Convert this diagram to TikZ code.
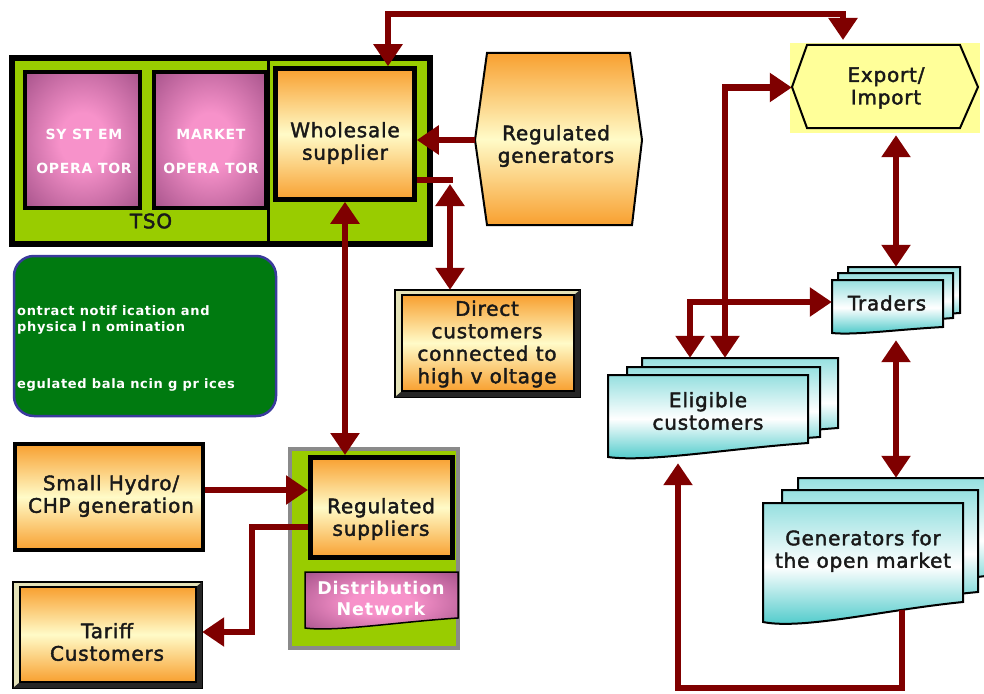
\documentclass[tikz,border=0pt]{standalone}
\usepackage{fontspec}
\setmainfont{DejaVu Sans}
\newfontfamily\lblfont[LetterSpace=4,FakeBold=2]{DejaVu Sans}
\newfontfamily\whfont[LetterSpace=5]{DejaVu Sans}
\usetikzlibrary{arrows.meta,calc}
\definecolor{dred}{HTML}{7F0000}
\definecolor{tsog}{HTML}{99CC00}
\definecolor{orA}{HTML}{F8A030}
\definecolor{orB}{HTML}{FFFBC8}
\definecolor{mgA}{HTML}{6A3660}
\definecolor{mgC}{HTML}{B25C94}
\definecolor{mgB}{HTML}{F792CA}
\definecolor{cyA}{HTML}{40C6C6}
\definecolor{dkgreen}{HTML}{007A10}
\definecolor{bord}{HTML}{3A3A9C}
\definecolor{expy}{HTML}{FFFF99}
\definecolor{bevel}{HTML}{E4E2B8}
\definecolor{grayb}{HTML}{8A8A8A}
\pgfdeclareradialshading{mgshade}{\pgfpoint{0bp}{0bp}}{color(0bp)=(mgB); color(10bp)=(mgB); color(32bp)=(mgC); color(47bp)=(mgA); color(80bp)=(mgA)}
\newcommand\docpage[6]{%
  \path[#6] (#1,#2) -- (#3,#2) -- (#3,#4)
    .. controls ({#1+0.6*(#3-#1)},{#4+0.4*(#5-#4)}) and ({#1+0.2*(#3-#1)},{#5+0.4*(#5-#4)}) .. (#1,#5) -- cycle;}
\newcommand\bevelbox[4]{% x1 y1 x2 y2
  \path[draw=black,line width=1.5pt,fill=bevel] (#1,#2) rectangle (#3,#4);
  \path[fill=black!85] (#3,#2) -- (#3,#4) -- (#1,#4) -- ({#1+7},{#4-6}) -- ({#3-6},{#4-6}) -- ({#3-6},{#2+5}) -- cycle;
  \path[draw=black,line width=1.5pt,top color=orA,bottom color=orA,middle color=orB] ({#1+7},{#2+5}) rectangle ({#3-6},{#4-6});}
\begin{document}
\begin{tikzpicture}[x=1pt,y=-1pt,
  arr/.style={draw=dred,line width=6.5pt,-{Triangle[width=28pt,length=22pt]}},
  darr/.style={draw=dred,line width=6.5pt,{Triangle[width=28pt,length=22pt]}-{Triangle[width=28pt,length=22pt]}},
  plainln/.style={draw=dred,line width=6.5pt},
  orfill/.style={top color=orA,bottom color=orA,middle color=orB},
  pagestyle/.style={draw=black,line width=2pt,top color=cyA!55!white,bottom color=cyA,middle color=white},
  mgfill/.style={shading=mgshade},
  lbl/.style={font=\lblfont\fontsize{20}{22.5}\selectfont,text=black!90,align=center,inner sep=0},
  wlbl/.style={font=\whfont\bfseries\fontsize{14}{34}\selectfont,text=white,align=center,inner sep=0},
  box/.style={inner sep=0,draw=black},
  hit/.style={inner sep=0,draw=none}]
\useasboundingbox (0,0) rectangle (984,693);
% ---------- TSO block
\node[box,line width=6pt,fill=tsog,minimum width=418pt,minimum height=186pt] (tso) at (221,151) {};
\draw[line width=3pt] (268,58) -- (268,244);
\node[box,line width=4pt,mgfill,minimum width=115pt,minimum height=136pt] (sysop) at (82.5,140) {};
\node[box,line width=4pt,mgfill,minimum width=112pt,minimum height=136pt] (mktop) at (210,140) {};
\node[wlbl] (sysopt) at (84,151) {SY ST EM\\OPERA TOR};
\node[wlbl] (mktopt) at (211,151) {MARKET\\OPERA TOR};
\node[lbl] (tsot) at (151,221) {TSO};
\node[box,line width=4.5pt,orfill,minimum width=139pt,minimum height=131pt] (whole) at (345,134) {};
\node[lbl] (wholet) at (345,143) {Wholesale\\supplier};
% ---------- Regulated generators
\path[draw=black,line width=2pt,orfill] (487,53) -- (630,53) -- (642,140) -- (632,225) -- (487,225) -- (475,140) -- cycle;
\node[hit,minimum width=167pt,minimum height=172pt] (regen) at (558.5,140) {};
\node[lbl] (regent) at (556,146) {Regulated\\generators};
% ---------- Direct customers
\bevelbox{395}{290}{580}{397}
\node[hit,minimum width=185pt,minimum height=107pt] (direct) at (487.5,343.5) {};
\node[lbl] (directt) at (487,344) {Direct\\customers\\connected to\\high v oltage};
% ---------- green note
\node[draw=bord,line width=2.5pt,fill=dkgreen,rounded corners=20pt,minimum width=262pt,minimum height=160pt,inner sep=0] (gbox) at (145,336) {};
\node[wlbl,font=\whfont\bfseries\fontsize{13}{16}\selectfont,align=left,anchor=west] (gnote1) at (17,320) {ontract notif ication and\\physica l n omination};
\node[wlbl,font=\whfont\bfseries\fontsize{13}{16}\selectfont,align=left,anchor=west] (gnote2) at (17,385) {egulated bala ncin g pr ices};
% ---------- Small hydro
\node[box,line width=4pt,orfill,minimum width=188pt,minimum height=106pt] (hydro) at (109,497) {};
\node[lbl] (hydrot) at (111,496) {Small Hydro/\\CHP generation};
% ---------- Tariff customers
\bevelbox{13}{582}{202}{688}
\node[hit,minimum width=189pt,minimum height=106pt] (tariff) at (107.5,635) {};
\node[lbl] (tarifft) at (107,642) {Tariff\\Customers};
% ---------- Regulated suppliers
\node[draw=grayb,line width=4pt,fill=tsog,minimum width=168pt,minimum height=199pt,inner sep=0] (regout) at (374,548.5) {};
\node[box,line width=5pt,orfill,minimum width=142pt,minimum height=100pt] (regsup) at (381.5,507.5) {};
\node[lbl] (regsupt) at (381,519) {Regulated\\suppliers};
\docpage{305}{572}{458}{618}{628}{draw=black,line width=1.5pt,shading=mgshade}
\node[wlbl,font=\whfont\bfseries\fontsize{17.5}{21}\selectfont] (distt) at (381,598) {Distribution\\Network};
% ---------- Export / Import
\fill[expy] (790,43) rectangle (980,133);
\path[draw=black,line width=2pt,fill=expy] (807,45) -- (960,45) -- (978,87) -- (960,128) -- (807,128) -- (792,87) -- cycle;
\node[hit,minimum width=186pt,minimum height=95pt] (expo) at (885,87.5) {};
\node[lbl] (expot) at (886,88) {Export/\\Import};
% ---------- Traders
\docpage{848}{267}{960}{313}{320}{pagestyle}
\docpage{838}{273}{953}{318}{326}{pagestyle}
\docpage{832}{280}{943}{327}{333}{pagestyle}
\node[hit,minimum width=128pt,minimum height=73pt] (traders) at (896,303.5) {};
\node[lbl] (tradt) at (887,303) {Traders};
% ---------- Eligible customers
\docpage{642}{358}{838}{428}{442}{pagestyle}
\docpage{627}{367}{820}{437}{450}{pagestyle}
\docpage{608}{375}{808}{443}{457}{pagestyle}
\node[hit,minimum width=230pt,minimum height=105pt] (elig) at (723,410.5) {};
\node[lbl] (eligt) at (708,411) {Eligible\\customers};
% ---------- Generators
\docpage{798}{478}{995}{575}{595}{pagestyle}
\docpage{782}{490}{978}{592}{610}{pagestyle}
\docpage{763}{503}{963}{602}{622}{pagestyle}
\node[hit,minimum width=232pt,minimum height=150pt] (gens) at (879,553) {};
\node[lbl] (genst) at (863,551) {Generators for\\the open market};
% ---------- connectors
\coordinate (tl) at (388,14);
\coordinate (tr) at (843,14);
\coordinate (trend) at (843,40);
\draw[darr] (tl |- whole.north) -- (tl) -- (tr) -- (trend);
\draw[arr] (regen.west) -- (regen.west -| whole.east);
\coordinate (dc) at (450,180);
\coordinate (dcx) at (453,180);
\coordinate (dcy) at (450,184);
\draw[plainln] (dc -| whole.east) -- (dcx);
\draw[darr] (dcy) -- (dcy |- direct.north);
\draw[darr] (whole.south) -- (whole.south |- regsup.north);
\coordinate (hy) at (205,490);
\draw[arr] (hy) -- (hy -| regsup.west);
\coordinate (rt1) at (252,527);
\coordinate (rt2) at (252,632);
\draw[arr] (rt1 -| regsup.west) -- (rt1) -- (rt2) -- (rt2 -| tariff.east);
\coordinate (e1) at (725,87.5);
\draw[darr] (e1 |- elig.north) -- (e1) -- (expo.west);
\coordinate (e2) at (690,302);
\draw[darr] (e2 |- elig.north) -- (e2) -- (e2 -| traders.west);
\draw[darr] (traders.north |- expo.south) -- (traders.north);
\draw[darr] (traders.south) -- (traders.south |- gens.north);
\coordinate (g0) at (902,610);
\coordinate (ga) at (902,688);
\coordinate (gb) at (678,688);
\draw[arr] (g0) -- (ga) -- (gb) -- (gb |- elig.south);
\end{tikzpicture}
\end{document}
